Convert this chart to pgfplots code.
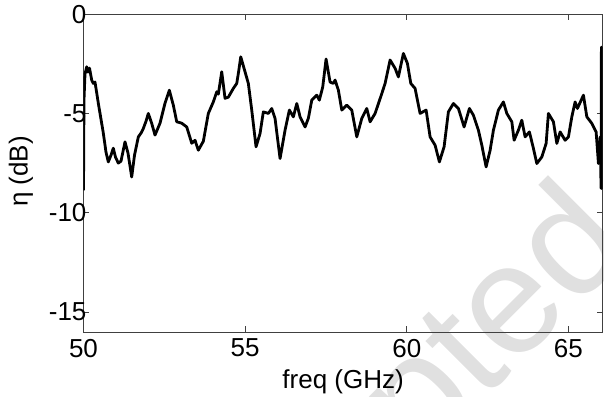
\documentclass[border=0pt]{standalone}
\usepackage{fontspec}
\setmainfont{Liberation Sans}
\usepackage{pgfplots}
\pgfplotsset{compat=1.18}
\begin{document}
\begin{tikzpicture}[x=1pt,y=1pt]
\useasboundingbox (-41.75,-32) rectangle (260.25,166);
\node[rotate=45, anchor=base west, text=black!12, inner sep=0pt,
      font=\fontsize{78}{80}\selectfont] at (52,-182) {accepted};
\begin{axis}[
  at={(0,0)}, anchor=south west,
  scale only axis, width=259.6pt, height=158.95pt,
  xmin=50, xmax=66.06, ymin=-16, ymax=0,
  xtick={50,55,60,65}, xticklabels={50,55,60,65},
  ytick={-15,-10,-5,0}, yticklabels={-15,-10,-5,0},
  tick align=inside, tick pos=both, major tick length=3pt,
  axis line style={black!75, line width=0.5pt},
  every tick/.style={black!75, line width=0.5pt},
  ticklabel style={font=\fontsize{13}{15}\selectfont},
  yticklabel style={xshift=5pt},
  label style={font=\fontsize{13}{15}\selectfont},
  xlabel={freq (GHz)}, ylabel={η (dB)},
  xlabel style={at={(axis description cs:0.5,-0.158)}, anchor=center},
  ylabel style={at={(axis description cs:-0.1204,0.505)}, anchor=center},
  clip=true,
]
\addplot[black, line width=1.4pt, line join=round] coordinates {
(50.000,-8.87) (50.015,-4.33) (50.046,-3.02) (50.099,-2.65) (50.139,-2.92)
(50.186,-2.72) (50.254,-3.32) (50.303,-3.49) (50.356,-3.42) (50.458,-4.48)
(50.613,-5.99) (50.696,-6.95) (50.767,-7.44) (50.851,-7.10) (50.922,-6.75)
(50.990,-7.20) (51.077,-7.50) (51.160,-7.40) (51.284,-6.43) (51.377,-7.00)
(51.491,-8.20) (51.578,-7.10) (51.696,-6.18) (51.779,-5.99) (51.850,-5.76)
(51.934,-5.39) (52.005,-5.00) (52.110,-5.50) (52.212,-6.09) (52.367,-5.49)
(52.522,-4.48) (52.655,-3.83) (52.778,-4.58) (52.884,-5.42) (53.038,-5.49)
(53.193,-5.68) (53.348,-6.50) (53.450,-6.35) (53.552,-6.85) (53.707,-6.40)
(53.861,-5.00) (54.016,-4.42) (54.121,-3.91) (54.171,-4.03) (54.276,-2.90)
(54.378,-4.24) (54.480,-4.18) (54.635,-3.74) (54.740,-3.49) (54.796,-2.92)
(54.864,-2.15) (54.966,-2.73) (55.099,-3.49) (55.204,-4.83) (55.337,-6.68)
(55.461,-6.01) (55.563,-4.92) (55.718,-5.00) (55.823,-4.75) (55.925,-5.25)
(56.080,-7.27) (56.235,-5.84) (56.368,-4.83) (56.491,-5.17) (56.597,-4.50)
(56.699,-5.17) (56.854,-5.68) (56.956,-5.24) (57.061,-4.33) (57.216,-4.08)
(57.296,-4.33) (57.401,-3.66) (57.503,-2.26) (57.627,-3.42) (57.729,-3.49)
(57.782,-3.32) (57.884,-3.83) (57.989,-4.83) (58.144,-4.58) (58.298,-4.83)
(58.453,-6.18) (58.608,-5.25) (58.763,-4.75) (58.865,-5.42) (59.020,-5.00)
(59.227,-4.00) (59.329,-3.49) (59.484,-2.31) (59.639,-2.73) (59.740,-3.16)
(59.895,-1.98) (60.019,-2.48) (60.124,-3.49) (60.257,-3.74) (60.412,-5.00)
(60.598,-4.83) (60.721,-6.18) (60.876,-6.60) (61.009,-7.44) (61.154,-6.68)
(61.287,-4.92) (61.442,-4.50) (61.597,-4.75) (61.773,-5.68) (61.937,-4.75)
(62.061,-5.09) (62.215,-5.84) (62.321,-6.60) (62.454,-7.69) (62.578,-6.85)
(62.680,-5.84) (62.834,-4.83) (62.989,-4.42) (63.094,-5.00) (63.249,-5.42)
(63.320,-6.35) (63.453,-5.84) (63.558,-5.34) (63.660,-6.18) (63.793,-5.93)
(63.917,-6.76) (64.022,-7.52) (64.177,-7.19) (64.310,-6.51) (64.381,-5.00)
(64.536,-5.42) (64.641,-6.51) (64.743,-5.93) (64.898,-6.35) (65.000,-6.18)
(65.105,-5.17) (65.207,-4.42) (65.278,-4.75) (65.464,-4.08) (65.569,-5.17)
(65.724,-5.50) (65.857,-5.93) (65.928,-7.52) (65.981,-6.18) (66.010,-8.77)
(66.020,-1.66) (66.030,-8.77) (66.040,-3.00)
};
\end{axis}
\end{tikzpicture}
\end{document}
